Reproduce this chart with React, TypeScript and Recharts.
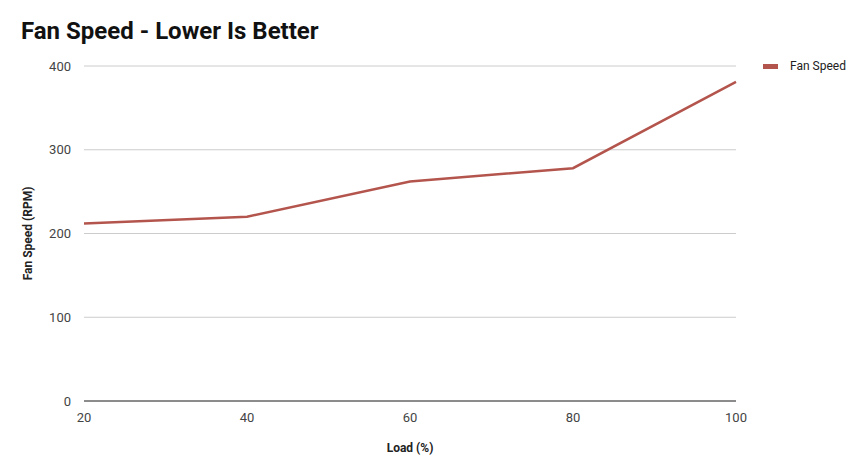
import { LineChart, Line, XAxis, YAxis, CartesianGrid } from 'recharts'

const loads = [20, 40, 60, 80, 100]
const fanSpeed = [212, 220, 262, 278, 381]
const xTicks = [20, 40, 60, 80, 100]
const yTicks = [0, 100, 200, 300, 400]

const data = loads.map((load, i) => ({ load, fan: fanSpeed[i] }))

const font = 'Roboto, "Noto Sans", sans-serif'
const lineColor = '#b4554d'

export default function App() {
  return (
    <div style={{ position: 'absolute', left: 0, top: 0, width: 859, height: 473, background: '#fff' }}>
      <div
        style={{
          position: 'absolute',
          left: 21,
          top: 17,
          fontFamily: font,
          fontWeight: 700,
          fontSize: 24,
          color: '#111',
        }}
      >
        Fan Speed - Lower Is Better
      </div>
      {/* legend, drawn by hand so it doesn't eat into the plot width */}
      <div
        style={{
          position: 'absolute',
          left: 763,
          top: 59,
          display: 'flex',
          alignItems: 'center',
          fontFamily: font,
          fontSize: 12,
          color: '#222',
        }}
      >
        <span style={{ display: 'inline-block', width: 15, height: 5, background: lineColor, marginRight: 12 }} />
        Fan Speed
      </div>
      <LineChart width={859} height={473} data={data} margin={{ top: 66, right: 123, left: 0, bottom: 0 }}>
        <CartesianGrid vertical={false} stroke="#cccccc" />
        <XAxis
          dataKey="load"
          type="number"
          domain={[20, 100]}
          ticks={xTicks}
          height={72}
          stroke="#333"
          tickLine={false}
          tickMargin={6}
          tick={{ fontSize: 13, fill: '#444', fontFamily: font }}
          label={{
            value: 'Load (%)',
            position: 'insideBottom',
            offset: 21,
            style: { fontSize: 12, fontWeight: 700, fill: '#222', fontFamily: font },
          }}
        />
        <YAxis
          domain={[0, 400]}
          ticks={yTicks}
          width={84}
          axisLine={false}
          tickLine={false}
          tickMargin={7}
          tick={{ fontSize: 13, fill: '#444', fontFamily: font }}
          label={{
            value: 'Fan Speed (RPM)',
            angle: -90,
            position: 'insideLeft',
            offset: 28,
            style: { fontSize: 12, fontWeight: 700, fill: '#222', fontFamily: font, textAnchor: 'middle' },
          }}
        />
        <Line
          type="linear"
          dataKey="fan"
          stroke={lineColor}
          strokeWidth={2.5}
          dot={false}
          isAnimationActive={false}
        />
      </LineChart>
    </div>
  )
}
